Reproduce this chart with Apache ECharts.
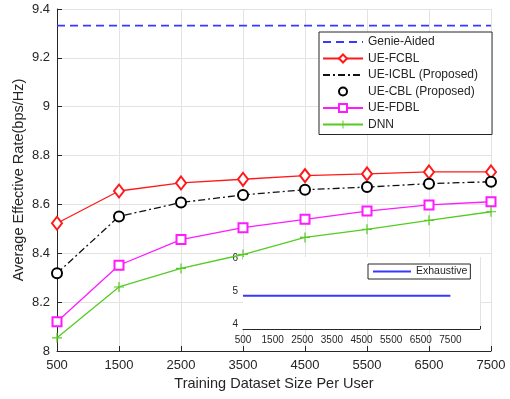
<!DOCTYPE html>
<html>
<head>
<meta charset="utf-8">
<script src="https://cdn.jsdelivr.net/npm/echarts@6/dist/echarts.min.js"></script>
<style>
  html, body { margin: 0; padding: 0; background: #fff; }
  #chart { width: 510px; height: 399px; }
</style>
</head>
<body>
<div id="chart"></div>
<script>
var sizes = [500, 1500, 2500, 3500, 4500, 5500, 6500, 7500];
var genie = [9.332, 9.332, 9.332, 9.332, 9.332, 9.332, 9.332, 9.332];
var ueFcbl = [8.523, 8.655, 8.688, 8.703, 8.718, 8.725, 8.733, 8.733];
var ueIcbl = [8.318, 8.551, 8.608, 8.639, 8.660, 8.671, 8.685, 8.693];
var ueCbl = [8.318, 8.551, 8.608, 8.639, 8.660, 8.671, 8.685, 8.693];
var ueFdbl = [8.120, 8.351, 8.456, 8.505, 8.539, 8.573, 8.598, 8.611];
var dnn = [8.054, 8.262, 8.338, 8.395, 8.465, 8.498, 8.535, 8.570];
var exhaustive = [4.86, 4.86, 4.86, 4.86, 4.86, 4.86, 4.86, 4.86];

function pairs(ys) {
    return sizes.map(function (x, i) { return [x, ys[i]]; });
}

var font = 'Liberation Sans, Arial, sans-serif';
var textColor = '#262626';
var plusPath = 'path://M4.4,0H5.6V4.4H10V5.6H5.6V10H4.4V5.6H0V4.4H4.4Z';
var plain = function (v) { return String(v); };

option = {
    animation: false,
    backgroundColor: '#fff',
    textStyle: { fontFamily: font, color: textColor },
    grid: [
        { left: 57, right: 19, top: 9, bottom: 48 },
        { left: 243, top: 257, width: 237, height: 72, show: true, backgroundColor: '#fff', borderWidth: 0, z: 5 }
    ],
    legend: [
        {
            orient: 'vertical',
            left: 319, top: 32,
            width: 172,
            itemWidth: 40, itemHeight: 10, itemGap: 4.5,
            padding: [4, 14, 4, 3],
            borderColor: '#262626', borderWidth: 1,
            backgroundColor: '#fff',
            textStyle: { fontFamily: font, fontSize: 12, color: textColor },
            data: [
                { name: 'Genie-Aided', itemStyle: { opacity: 0 } },
                'UE-FCBL',
                { name: 'UE-ICBL (Proposed)', itemStyle: { opacity: 0 } },
                'UE-CBL (Proposed)', 'UE-FDBL', 'DNN'
            ]
        },
        {
            left: 368, top: 264,
            itemWidth: 38, itemHeight: 10,
            padding: [2, 3, 2, 4],
            borderColor: '#262626', borderWidth: 1,
            backgroundColor: '#fff',
            z: 10,
            textStyle: { fontFamily: font, fontSize: 10.5, color: textColor },
            data: [{ name: 'Exhaustive', itemStyle: { opacity: 0 } }]
        }
    ],
    xAxis: [
        {
            type: 'value', gridIndex: 0,
            min: 500, max: 7500, interval: 1000,
            name: 'Training Dataset Size Per User',
            nameLocation: 'middle', nameGap: 25,
            nameTextStyle: { fontSize: 14.5, color: textColor },
            axisLine: { lineStyle: { color: '#262626' } },
            axisTick: { inside: true, length: 5, lineStyle: { color: '#262626' } },
            axisLabel: { fontSize: 13, color: textColor, margin: 8, formatter: plain },
            splitLine: { lineStyle: { color: '#e3e3e3' } }
        },
        {
            type: 'value', gridIndex: 1,
            min: 500, max: 8500, interval: 1000,
            axisLine: { lineStyle: { color: '#262626' } },
            axisTick: { inside: true, length: 3, lineStyle: { color: '#262626' } },
            axisLabel: {
                fontSize: 10, color: textColor, margin: 6,
                formatter: function (v) { return v > 7500 ? '' : String(v); }
            },
            splitLine: { lineStyle: { color: '#e3e3e3' } }
        }
    ],
    yAxis: [
        {
            type: 'value', gridIndex: 0,
            min: 8, max: 9.4, interval: 0.2,
            name: 'Average Effective Rate(bps/Hz)',
            nameLocation: 'middle', nameGap: 31, nameMoveOverlap: false,
            nameTextStyle: { fontSize: 14.5, color: textColor },
            axisLine: { show: true, lineStyle: { color: '#262626' } },
            axisTick: { show: true, inside: true, length: 5, lineStyle: { color: '#262626' } },
            axisLabel: { fontSize: 13, color: textColor, margin: 7 },
            splitLine: { lineStyle: { color: '#e3e3e3' } }
        },
        {
            type: 'value', gridIndex: 1,
            min: 3.85, max: 6.03,
            axisLine: { show: true, lineStyle: { color: '#262626' } },
            axisTick: { show: true, inside: true, length: 3, customValues: [4, 5, 6], lineStyle: { color: '#262626' } },
            axisLabel: { fontSize: 10, color: textColor, margin: 5, customValues: [4, 5, 6] },
            splitLine: { lineStyle: { color: '#e3e3e3' } }
        }
    ],
    series: [
        {
            name: 'Genie-Aided', type: 'line',
            symbol: 'none',
            itemStyle: { color: '#3838ff' },
            lineStyle: { color: '#3838ff', width: 1.8, type: [8, 5] },
            data: pairs(genie)
        },
        {
            name: 'UE-FCBL', type: 'line',
            symbol: 'emptyDiamond', symbolSize: [10, 13],
            itemStyle: { color: '#ff1a1a', borderWidth: 1 },
            lineStyle: { color: '#ff1a1a', width: 1.3 },
            data: pairs(ueFcbl)
        },
        {
            name: 'UE-ICBL (Proposed)', type: 'line',
            symbol: 'none',
            itemStyle: { color: '#111' },
            lineStyle: { color: '#111', width: 1.3, type: [7, 3, 2, 3] },
            data: pairs(ueIcbl)
        },
        {
            name: 'UE-CBL (Proposed)', type: 'line',
            symbol: 'emptyCircle', symbolSize: 10,
            itemStyle: { color: '#000', borderWidth: 3 },
            lineStyle: { width: 0, opacity: 0 },
            data: pairs(ueCbl)
        },
        {
            name: 'UE-FDBL', type: 'line',
            symbol: 'emptyRect', symbolSize: 9,
            itemStyle: { color: '#ff1aff', borderWidth: 1 },
            lineStyle: { color: '#ff1aff', width: 1.3 },
            data: pairs(ueFdbl)
        },
        {
            name: 'DNN', type: 'line',
            symbol: plusPath, symbolSize: 10,
            itemStyle: { color: '#55cc22' },
            lineStyle: { color: '#55cc22', width: 1.3 },
            data: pairs(dnn)
        },
        {
            name: 'Exhaustive', type: 'line',
            xAxisIndex: 1, yAxisIndex: 1,
            symbol: 'none',
            itemStyle: { color: '#3838ff' },
            lineStyle: { color: '#3838ff', width: 2 },
            z: 6,
            data: pairs(exhaustive)
        }
    ]
};

var myChart = echarts.init(document.getElementById('chart'));
myChart.setOption(option);
</script>
</body>
</html>
